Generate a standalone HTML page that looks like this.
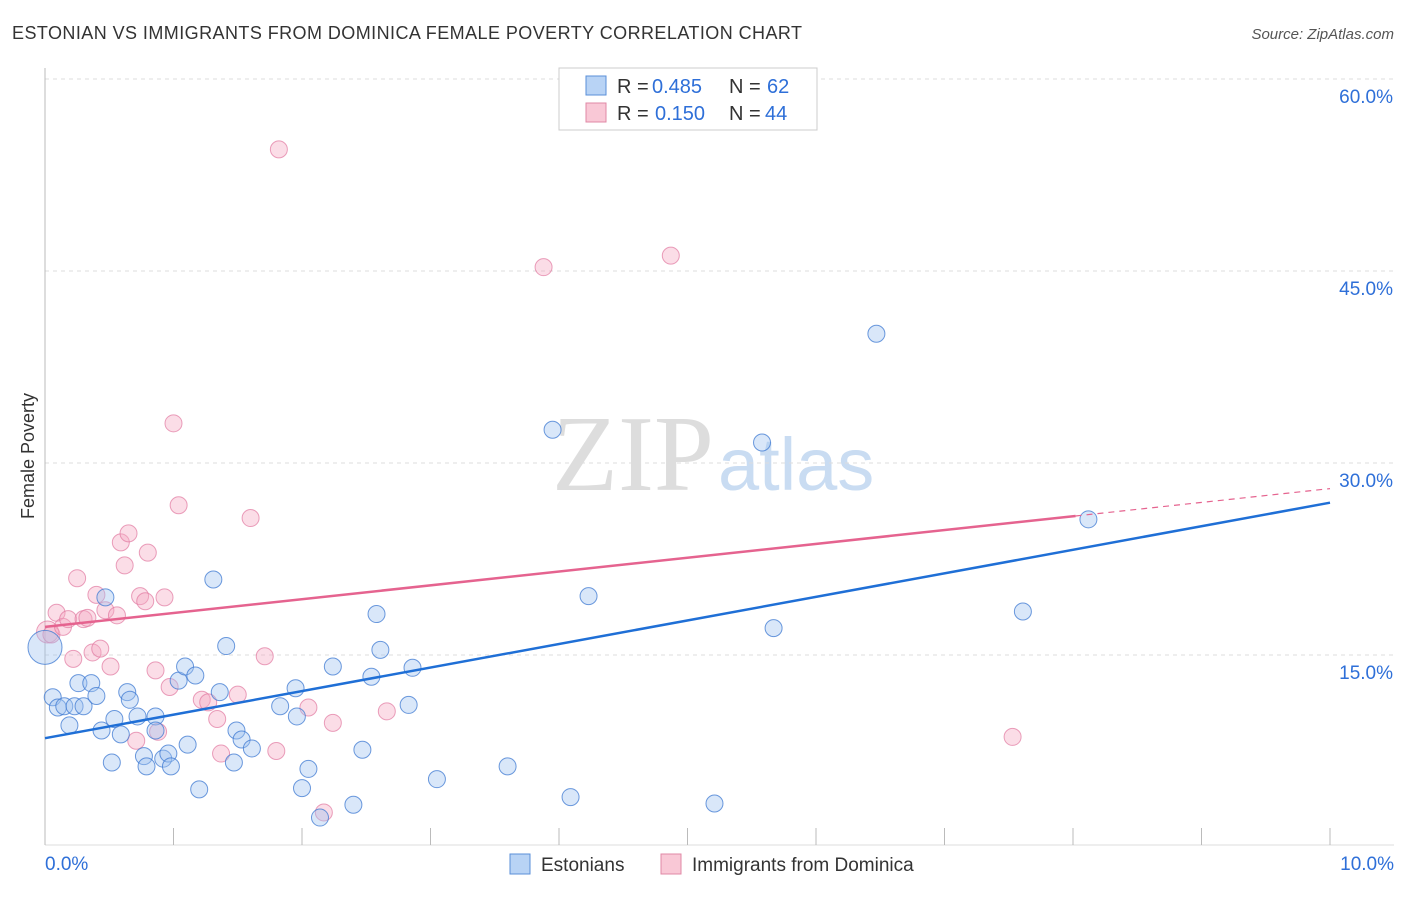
<!DOCTYPE html>
<html><head><meta charset="utf-8"><style>
body{margin:0;background:#fff;font-family:"Liberation Sans",sans-serif;}
svg text{font-family:"Liberation Sans",sans-serif;}
</style></head><body>
<svg id="c" width="1406" height="892" xmlns="http://www.w3.org/2000/svg">
<text x="12" y="39" font-size="18" fill="#333" textLength="790">ESTONIAN VS IMMIGRANTS FROM DOMINICA FEMALE POVERTY CORRELATION CHART</text>
<text x="1394" y="39" font-size="15" fill="#555" text-anchor="end" font-style="italic">Source: ZipAtlas.com</text>
<text x="714" y="490" font-size="108" fill="#ddd" text-anchor="end" style="font-family:'Liberation Serif',serif">ZIP</text>
<text x="718" y="490" font-size="74" fill="#c9dcf2">atlas</text>
<text transform="translate(34,456) rotate(-90)" font-size="18" fill="#333" text-anchor="middle">Female Poverty</text>
<g id="grid"></g><g id="ticks"></g><g id="pts"></g><g id="lines"></g>
<g>
<rect x="559" y="68" width="258" height="62" fill="#fff" stroke="#ccc"/>
<rect x="586" y="76" width="20" height="19" fill="#b8d3f5" stroke="#5a8fd8"/>
<rect x="586" y="103" width="20" height="19" fill="#f9c8d6" stroke="#e088a6"/>
<text x="617" y="93" font-size="20" fill="#333">R =</text><text x="652" y="93" font-size="20" fill="#2e6fd8">0.485</text>
<text x="729" y="93" font-size="20" fill="#333">N =</text><text x="767" y="93" font-size="20" fill="#2e6fd8">62</text>
<text x="617" y="120" font-size="20" fill="#333">R =</text><text x="655" y="120" font-size="20" fill="#2e6fd8">0.150</text>
<text x="729" y="120" font-size="20" fill="#333">N =</text><text x="765" y="120" font-size="20" fill="#2e6fd8">44</text>
</g>
<g>
<rect x="510" y="854" width="20" height="20" fill="#b8d3f5" stroke="#5a8fd8"/>
<text x="541" y="871" font-size="19" fill="#333">Estonians</text>
<rect x="661" y="854" width="20" height="20" fill="#f9c8d6" stroke="#e088a6"/>
<text x="692" y="871" font-size="19" fill="#333">Immigrants from Dominica</text>
</g>
<text x="45" y="870" font-size="19" fill="#2e6fd8">0.0%</text>
<text x="1394" y="870" font-size="19" fill="#2e6fd8" text-anchor="end">10.0%</text>
</svg>
<script>
const yTicks=[15,30,45,60];
const yTickLabels=["15.0%","30.0%","45.0%","60.0%"];
const xTicks=[0,1,2,3,4,5,6,7,8,9,10];
const blueX=[0,0.06,0.10,0.15,0.19,0.23,0.26,0.30,0.36,0.40,0.44,0.47,0.52,0.54,0.59,0.64,0.66,0.72,0.77,0.79,0.86,0.86,0.92,0.96,0.98,1.04,1.09,1.11,1.17,1.20,1.31,1.36,1.41,1.47,1.49,1.53,1.61,1.83,1.95,1.96,2.00,2.05,2.14,2.24,2.40,2.47,2.54,2.58,2.61,2.83,2.86,3.05,3.60,3.95,4.09,4.23,5.21,5.58,5.67,6.47,7.61,8.12];
const blueY=[15.6,11.7,10.9,11.0,9.5,11.0,12.8,11.0,12.8,11.8,9.1,19.5,6.6,10.0,8.8,12.1,11.5,10.2,7.1,6.3,10.2,9.1,6.9,7.3,6.3,13.0,14.1,8.0,13.4,4.5,20.9,12.1,15.7,6.6,9.1,8.4,7.7,11.0,12.4,10.2,4.6,6.1,2.3,14.1,3.3,7.6,13.3,18.2,15.4,11.1,14.0,5.3,6.3,32.6,3.9,19.6,3.4,31.6,17.1,40.1,18.4,25.6];
const pinkX=[0.02,0.05,0.09,0.14,0.18,0.22,0.25,0.30,0.33,0.37,0.40,0.43,0.47,0.51,0.56,0.59,0.62,0.65,0.71,0.74,0.78,0.80,0.86,0.88,0.93,0.97,1.00,1.04,1.22,1.27,1.34,1.37,1.50,1.60,1.71,1.80,1.82,2.05,2.17,2.24,2.66,3.88,4.87,7.53];
const pinkY=[16.8,16.6,18.3,17.2,17.8,14.7,21.0,17.8,17.9,15.2,19.7,15.5,18.5,14.1,18.1,23.8,22.0,24.5,8.3,19.6,19.2,23.0,13.8,9.0,19.5,12.5,33.1,26.7,11.5,11.3,10.0,7.3,11.9,25.7,14.9,7.5,54.5,10.9,2.7,9.7,10.6,45.3,46.2,8.6];
const blueLine=[8.5,26.9];
const pinkLine=[17.2,28.0];
const pinkSolidEnd=8.02;
const NS="http://www.w3.org/2000/svg";
const X=v=>45+v*128.5, Y=v=>847-v*12.8;
function mk(t,a,p){const e=document.createElementNS(NS,t);for(const k in a)e.setAttribute(k,a[k]);document.getElementById(p).appendChild(e);return e;}
yTicks.forEach((t,i)=>{
 const l=mk('line',{x1:45,x2:1394,y1:Y(t),y2:Y(t),stroke:'#ddd','stroke-dasharray':'4,4'},'grid');
 
 
 const tx=mk('text',{x:1393,y:Y(t)+24,'font-size':19,fill:'#2e6fd8','text-anchor':'end'},'grid');
 tx.textContent=yTickLabels[i];
 
 
});
const ax=mk('line',{x1:45,x2:45,y1:68,y2:845,stroke:'#bbb'},'ticks');


const bx=mk('line',{x1:45,x2:1394,y1:845,y2:845,stroke:'#ddd'},'ticks');


xTicks.forEach(t=>{const l=mk('line',{x1:X(t),x2:X(t),y1:828,y2:845,stroke:'#bbb'},'ticks');
 
 });
pinkX.forEach((x,i)=>{const c=mk('circle',{cx:X(x),cy:Y(pinkY[i]),r:i==0?11:8.5,fill:'rgba(246,170,195,0.4)',stroke:'rgba(225,120,160,0.7)','stroke-width':1},'pts');
 
 });
blueX.forEach((x,i)=>{const c=mk('circle',{cx:X(x),cy:Y(blueY[i]),r:i==0?17:8.5,fill:'rgba(160,195,240,0.4)',stroke:'rgba(60,120,210,0.75)','stroke-width':1},'pts');
 
 });
const pv=x=>pinkLine[0]+(pinkLine[1]-pinkLine[0])*x/10;
const bl=mk('line',{x1:X(0),y1:Y(blueLine[0]),x2:X(10),y2:Y(blueLine[1]),stroke:'#1f6fd6','stroke-width':2.5},'lines');


const pl=mk('line',{x1:X(0),y1:Y(pv(0)),x2:X(pinkSolidEnd),y2:Y(pv(pinkSolidEnd)),stroke:'#e5638f','stroke-width':2.5},'lines');


const pd=mk('line',{x1:X(pinkSolidEnd),y1:Y(pv(pinkSolidEnd)),x2:X(10),y2:Y(pv(10)),stroke:'#e5638f','stroke-width':1.2,'stroke-dasharray':'6,5'},'lines');


</script>
</body></html>
